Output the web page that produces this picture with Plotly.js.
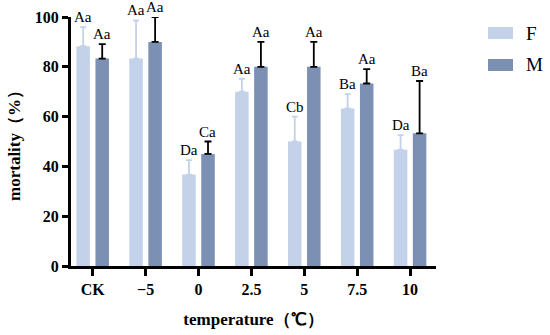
<!DOCTYPE html>
<html>
<head>
<meta charset="utf-8">
<script src="https://cdn.plot.ly/plotly-3.0.1.min.js"></script>
<style>html,body{margin:0;padding:0;background:#fff;}#chart{width:550px;height:335px;}</style>
</head>
<body>
<div id="chart"></div>
<script>
const categories = ['CK', '\u22125', '0', '2.5', '5', '7.5', '10'];
const fValues = [88.3, 83.3, 36.7, 70.0, 50.0, 63.3, 46.7];
const fErrors = [7.6, 15.3, 5.8, 5.2, 10.0, 5.7, 5.9];
const mValues = [83.3, 90.0, 45.0, 80.0, 80.0, 73.3, 53.3];
const mErrors = [5.8, 10.0, 5.0, 10.0, 10.0, 5.8, 21.0];
const fLetters = ['Aa', 'Aa', 'Da', 'Aa', 'Cb', 'Ba', 'Da'];
const mLetters = ['Aa', 'Aa', 'Ca', 'Aa', 'Aa', 'Aa', 'Ba'];
const yTicks = [0, 20, 40, 60, 80, 100];

const fColor = '#c3d2e8';
const mColor = '#7b90b2';
const serif = '"Liberation Serif", "Times New Roman", serif';

const traces = [
  {type: 'bar', name: 'F', x: categories, y: fValues, marker: {color: fColor},
   error_y: {type: 'data', array: fErrors, arrayminus: fErrors.map(() => 0), color: fColor, thickness: 1.8, width: 3},
   cliponaxis: false, showlegend: false},
  {type: 'bar', name: 'M', x: categories, y: mValues, marker: {color: mColor},
   error_y: {type: 'data', array: mErrors, arrayminus: mErrors.map(() => 0), color: '#000', thickness: 1.8, width: 3.5},
   cliponaxis: false, showlegend: false}
];

const pw = 550 - 71 - 114, ph = 335 - 17 - 69;
function px(x) { return (x - 71) / pw; }
function py(y) { return (335 - 69 - y) / ph; }

const annotations = [];
categories.forEach((c, i) => {
  annotations.push({x: i, y: fValues[i] + fErrors[i], xref: 'x', yref: 'y', text: fLetters[i], showarrow: false,
    yanchor: 'bottom', xshift: -9.5, yshift: 1, borderpad: 0, font: {family: serif, size: 15, color: '#000'}});
  annotations.push({x: i, y: mValues[i] + mErrors[i], xref: 'x', yref: 'y', text: mLetters[i], showarrow: false,
    yanchor: 'bottom', xshift: 9.5, yshift: 1, borderpad: 0, font: {family: serif, size: 15, color: '#000'}});
});
annotations.push({x: px(524), y: py(33), xref: 'paper', yref: 'paper', text: 'F', showarrow: false,
  xanchor: 'left', yanchor: 'middle', font: {family: serif, size: 19, color: '#000'}});
annotations.push({x: px(524), y: py(65), xref: 'paper', yref: 'paper', text: 'M', showarrow: false,
  xanchor: 'left', yanchor: 'middle', font: {family: serif, size: 19, color: '#000'}});

const layout = {
  width: 550, height: 335,
  margin: {l: 71, r: 114, t: 17, b: 69},
  paper_bgcolor: '#fff', plot_bgcolor: '#fff',
  barmode: 'group', bargap: 0.28, bargroupgap: 0.29,
  showlegend: false,
  xaxis: {
    type: 'category', range: [-0.41, 6.49],
    showline: true, linecolor: '#000', linewidth: 3,
    ticks: 'outside', ticklen: 7, tickwidth: 3, tickcolor: '#000',
    showgrid: false, zeroline: false,
    tickfont: {family: serif, size: 16, color: '#000', weight: 'bold'},
    title: {text: '<b>temperature（℃）</b>', font: {family: serif, size: 17, color: '#000'}, standoff: 16}
  },
  yaxis: {
    range: [0, 100], tickvals: yTicks, ticktext: yTicks.map(String),
    showline: true, linecolor: '#000', linewidth: 3,
    ticks: 'outside', ticklen: 6, tickwidth: 3, tickcolor: '#000',
    showgrid: false, zeroline: false,
    tickfont: {family: serif, size: 16, color: '#000', weight: 'bold'},
    title: {text: '<b>mortality（%）</b>', font: {family: serif, size: 17, color: '#000'}, standoff: 10}
  },
  annotations: annotations,
  shapes: [
    {type: 'rect', xref: 'paper', yref: 'paper', x0: px(488), x1: px(513), y0: py(39), y1: py(27), fillcolor: fColor, line: {width: 0}},
    {type: 'rect', xref: 'paper', yref: 'paper', x0: px(488), x1: px(513), y0: py(71), y1: py(59), fillcolor: mColor, line: {width: 0}}
  ]
};

Plotly.newPlot('chart', traces, layout, {displayModeBar: false, staticPlot: true});
</script>
</body>
</html>
